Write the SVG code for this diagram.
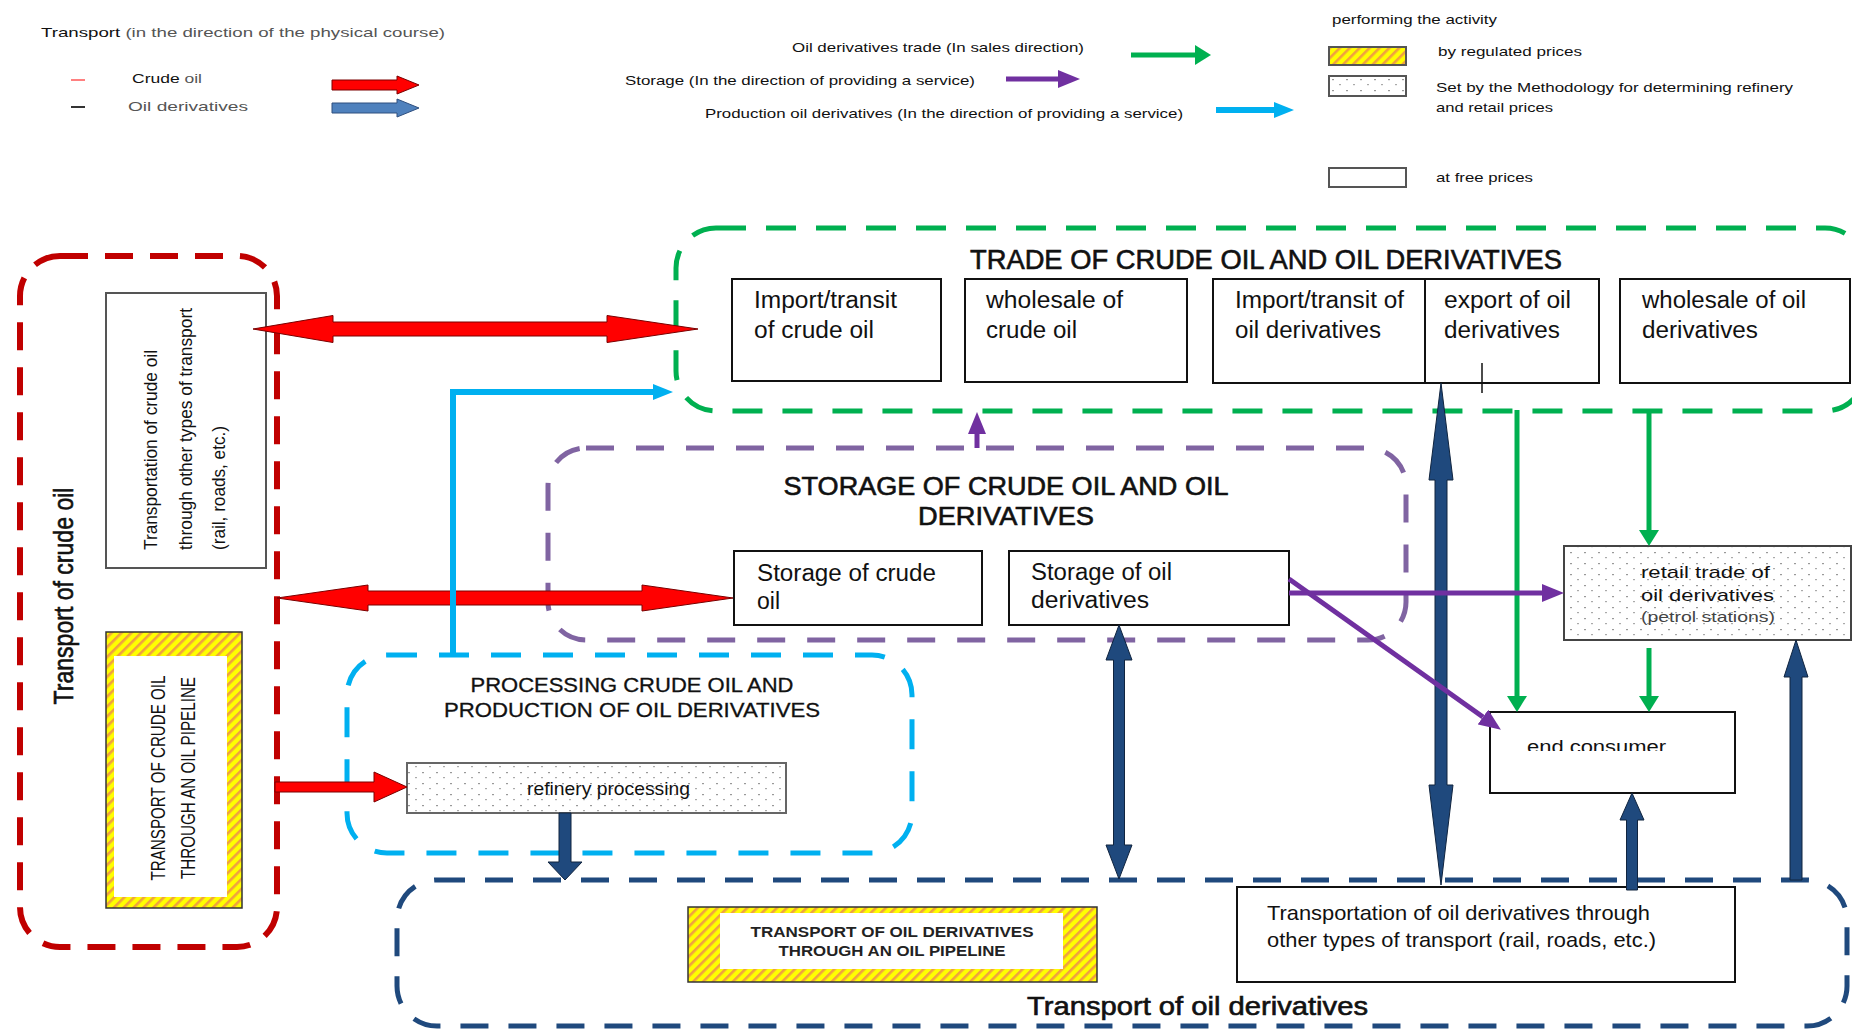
<svg xmlns="http://www.w3.org/2000/svg" width="1852" height="1029" viewBox="0 0 1852 1029">
<style>
text{font-family:"Liberation Sans",Arial,sans-serif}
.lg{font-size:13px;fill:#555}
.lgk{fill:#111}
.bx{font-size:23px;fill:#111}
.cond{fill:#111}
.ttl{stroke:#111;stroke-width:0.6}
.grp{fill:none;stroke-linejoin:round}
.node{fill:#fff;stroke:#111;stroke-width:2}
.gnode{stroke:#555;stroke-width:2}
.red{fill:#ff0000;stroke:#7a0000;stroke-width:1}
.navy{fill:#1f497d;stroke:#10243f;stroke-width:1}
.lg-g{stroke:#00b050;stroke-width:5;fill:none}
.lg-p{stroke:#7030a0;stroke-width:5;fill:none}
.lg-c{stroke:#00b0f0;stroke-width:6;fill:none}
</style>
<defs>
<pattern id="hatch" patternUnits="userSpaceOnUse" width="7" height="7" patternTransform="rotate(45)">
<rect width="7" height="7" fill="#ffff00"/>
<rect width="2.6" height="7" fill="#f0a040"/>
</pattern>
<pattern id="dots" patternUnits="userSpaceOnUse" width="14" height="11">
<rect width="14" height="11" fill="#fff"/>
<rect x="2" y="2" width="2" height="1.2" fill="#999"/>
<rect x="9" y="7" width="2" height="1.2" fill="#aaa"/>
</pattern>
<marker id="mg" markerUnits="userSpaceOnUse" viewBox="0 0 16 20" markerWidth="16" markerHeight="20" refX="0" refY="10" orient="auto"><path d="M0,0 L16,10 L0,20 z" fill="#00b050"/></marker>
<marker id="mp" markerUnits="userSpaceOnUse" viewBox="0 0 22 18" markerWidth="22" markerHeight="18" refX="0" refY="9" orient="auto"><path d="M0,0 L22,9 L0,18 z" fill="#7030a0"/></marker>
<marker id="mc" markerUnits="userSpaceOnUse" viewBox="0 0 20 16" markerWidth="20" markerHeight="16" refX="0" refY="8" orient="auto"><path d="M0,0 L20,8 L0,16 z" fill="#00b0f0"/></marker>
<clipPath id="ecclip"><rect x="1495" y="714" width="235" height="37"/></clipPath>
</defs>
<rect width="1852" height="1029" fill="#fff"/>

<g id="legend">
<text class="lg" x="41" y="37" textLength="404" lengthAdjust="spacingAndGlyphs"><tspan class="lgk">Transport</tspan> (in the direction of the physical course)</text>
<line x1="71" y1="80" x2="85" y2="80" stroke="#ff8080" stroke-width="2"/>
<text class="lg" x="132" y="83" textLength="70" lengthAdjust="spacingAndGlyphs"><tspan class="lgk">Crude</tspan> oil</text>
<line x1="71" y1="107" x2="85" y2="107" stroke="#333" stroke-width="2"/>
<text class="lg" x="128" y="111" textLength="120" lengthAdjust="spacingAndGlyphs">Oil derivatives</text>
<polygon class="red" points="332,80 397,80 397,76 419,85 397,94 397,90 332,90"/>
<polygon points="332,103 397,103 397,99 419,108 397,117 397,113 332,113" fill="#4f81bd" stroke="#2f4f7f" stroke-width="1"/>
<text class="lg lgk" x="792" y="52" textLength="292" lengthAdjust="spacingAndGlyphs">Oil derivatives trade (In sales direction)</text>
<path class="lg-g" d="M1131,55 H1195" marker-end="url(#mg)"/>
<text class="lg lgk" x="625" y="85" textLength="350" lengthAdjust="spacingAndGlyphs">Storage (In the direction of providing a service)</text>
<path class="lg-p" d="M1006,79 H1058" marker-end="url(#mp)"/>
<text class="lg lgk" x="705" y="118" textLength="478" lengthAdjust="spacingAndGlyphs">Production oil derivatives (In the direction of providing a service)</text>
<path class="lg-c" d="M1216,110 H1274" marker-end="url(#mc)"/>
<text class="lg lgk" x="1332" y="24" textLength="165" lengthAdjust="spacingAndGlyphs">performing the activity</text>
<rect x="1329" y="47" width="77" height="18" fill="url(#hatch)" stroke="#555" stroke-width="2"/>
<text class="lg lgk" x="1438" y="56" textLength="144" lengthAdjust="spacingAndGlyphs">by regulated prices</text>
<rect x="1329" y="76" width="77" height="20" fill="url(#dots)" stroke="#555" stroke-width="2"/>
<text class="lg lgk" x="1436" y="92" textLength="357" lengthAdjust="spacingAndGlyphs">Set by the Methodology for determining refinery</text>
<text class="lg lgk" x="1436" y="112" textLength="117" lengthAdjust="spacingAndGlyphs">and retail prices</text>
<rect x="1329" y="168" width="77" height="19" fill="#fff" stroke="#555" stroke-width="2"/>
<text class="lg lgk" x="1436" y="182" textLength="97" lengthAdjust="spacingAndGlyphs">at free prices</text>
</g>

<g id="group-transport-crude">
<rect class="grp" x="20" y="256" width="257" height="691" rx="40" stroke="#c00000" stroke-width="6" stroke-dasharray="28 17"/>
<text class="cond ttl" x="72.5" y="596" font-size="27" text-anchor="middle" textLength="217" lengthAdjust="spacingAndGlyphs" transform="rotate(-90 72.5 596)">Transport of crude oil</text>
</g>
<g id="group-trade">
<rect class="grp" x="676" y="228" width="1189" height="183" rx="40" stroke="#00b050" stroke-width="5" stroke-dasharray="30 20"/>
<text class="cond ttl" x="970" y="269" font-size="27" textLength="592" lengthAdjust="spacingAndGlyphs">TRADE OF CRUDE OIL AND OIL DERIVATIVES</text>
</g>
<g id="group-storage">
<rect class="grp" x="548" y="448" width="858" height="192" rx="38" stroke="#8064a2" stroke-width="5" stroke-dasharray="28 22"/>
<text class="cond ttl" x="1006" y="495" font-size="25" text-anchor="middle" textLength="445" lengthAdjust="spacingAndGlyphs">STORAGE OF CRUDE OIL AND OIL</text>
<text class="cond ttl" x="1006" y="525" font-size="25" text-anchor="middle" textLength="176" lengthAdjust="spacingAndGlyphs">DERIVATIVES</text>
</g>
<g id="group-processing">
<rect class="grp" x="347" y="655" width="565" height="198" rx="40" stroke="#00b0f0" stroke-width="5" stroke-dasharray="30 22"/>
<text class="cond" x="632" y="692" font-size="20" text-anchor="middle" textLength="323" lengthAdjust="spacingAndGlyphs" stroke="#111" stroke-width="0.3">PROCESSING CRUDE OIL AND</text>
<text class="cond" x="632" y="717" font-size="20" text-anchor="middle" textLength="376" lengthAdjust="spacingAndGlyphs" stroke="#111" stroke-width="0.3">PRODUCTION OF OIL DERIVATIVES</text>
</g>
<g id="group-transport-deriv">
<rect class="grp" x="397" y="880" width="1450" height="146" rx="40" stroke="#1f497d" stroke-width="5" stroke-dasharray="28 20"/>
<text class="cond ttl" x="1027" y="1015" font-size="25" textLength="341" lengthAdjust="spacingAndGlyphs">Transport of oil derivatives</text>
</g>

<g id="node-crude-other-transport">
<rect class="node gnode" x="106" y="293" width="160" height="275"/>
<text class="cond" x="157" y="550" font-size="19" textLength="200" lengthAdjust="spacingAndGlyphs" transform="rotate(-90 157 550)">Transportation of crude oil</text>
<text class="cond" x="192" y="550" font-size="19" textLength="242" lengthAdjust="spacingAndGlyphs" transform="rotate(-90 192 550)">through other types of transport</text>
<text class="cond" x="225" y="550" font-size="19" textLength="124" lengthAdjust="spacingAndGlyphs" transform="rotate(-90 225 550)">(rail, roads, etc.)</text>
</g>
<g id="node-crude-pipeline">
<rect x="106" y="632" width="136" height="276" fill="url(#hatch)" stroke="#333" stroke-width="1.5"/>
<rect x="114" y="656" width="113" height="241" fill="#fff"/>
<text class="cond" x="165" y="778" font-size="21" text-anchor="middle" textLength="205" lengthAdjust="spacingAndGlyphs" transform="rotate(-90 165 778)">TRANSPORT OF CRUDE OIL</text>
<text class="cond" x="195" y="778" font-size="21" text-anchor="middle" textLength="202" lengthAdjust="spacingAndGlyphs" transform="rotate(-90 195 778)">THROUGH AN OIL PIPELINE</text>
</g>
<g id="node-import-crude">
<rect class="node" x="732" y="279" width="209" height="102"/>
<text class="bx" x="754" y="308" textLength="143" lengthAdjust="spacingAndGlyphs">Import/transit</text>
<text class="bx" x="754" y="338" textLength="120" lengthAdjust="spacingAndGlyphs">of crude oil</text>
</g>
<g id="node-wholesale-crude">
<rect class="node" x="965" y="279" width="222" height="103"/>
<text class="bx" x="986" y="308" textLength="137" lengthAdjust="spacingAndGlyphs">wholesale of</text>
<text class="bx" x="986" y="338" textLength="91" lengthAdjust="spacingAndGlyphs">crude oil</text>
</g>
<g id="node-import-deriv">
<rect class="node" x="1213" y="279" width="212" height="104"/>
<text class="bx" x="1235" y="308" textLength="169" lengthAdjust="spacingAndGlyphs">Import/transit of</text>
<text class="bx" x="1235" y="338" textLength="146" lengthAdjust="spacingAndGlyphs">oil derivatives</text>
</g>
<g id="node-export-deriv">
<rect class="node" x="1425" y="279" width="174" height="104"/>
<text class="bx" x="1444" y="308" textLength="127" lengthAdjust="spacingAndGlyphs">export of oil</text>
<text class="bx" x="1444" y="338" textLength="116" lengthAdjust="spacingAndGlyphs">derivatives</text>
<line x1="1482" y1="363" x2="1482" y2="393" stroke="#111" stroke-width="1.5"/>
</g>
<g id="node-wholesale-deriv">
<rect class="node" x="1620" y="279" width="230" height="104"/>
<text class="bx" x="1642" y="308" textLength="164" lengthAdjust="spacingAndGlyphs">wholesale of oil</text>
<text class="bx" x="1642" y="338" textLength="116" lengthAdjust="spacingAndGlyphs">derivatives</text>
</g>
<g id="node-storage-crude">
<rect class="node" x="734" y="551" width="248" height="74"/>
<text class="bx" x="757" y="581" textLength="179" lengthAdjust="spacingAndGlyphs">Storage of crude</text>
<text class="bx" x="757" y="609">oil</text>
</g>
<g id="node-storage-deriv">
<rect class="node" x="1009" y="551" width="280" height="74"/>
<text class="bx" x="1031" y="580" textLength="141" lengthAdjust="spacingAndGlyphs">Storage of oil</text>
<text class="bx" x="1031" y="608" textLength="118" lengthAdjust="spacingAndGlyphs">derivatives</text>
</g>
<g id="node-refinery">
<rect x="407" y="763" width="379" height="50" fill="url(#dots)" stroke="#666" stroke-width="2"/>
<text class="cond" x="527" y="795" font-size="19" textLength="163" lengthAdjust="spacingAndGlyphs">refinery processing</text>
</g>
<g id="node-deriv-pipeline">
<rect x="688" y="907" width="409" height="75" fill="url(#hatch)" stroke="#333" stroke-width="1.5"/>
<rect x="720" y="913" width="343" height="56" fill="#fff"/>
<text x="892" y="937" font-size="14" font-weight="bold" fill="#222" text-anchor="middle" textLength="283" lengthAdjust="spacingAndGlyphs">TRANSPORT OF OIL DERIVATIVES</text>
<text x="892" y="956" font-size="14" font-weight="bold" fill="#222" text-anchor="middle" textLength="227" lengthAdjust="spacingAndGlyphs">THROUGH AN OIL PIPELINE</text>
</g>
<g id="node-deriv-other-transport">
<rect class="node" x="1237" y="887" width="498" height="95" stroke="#333"/>
<text class="cond" x="1267" y="920" font-size="21" textLength="383" lengthAdjust="spacingAndGlyphs">Transportation of oil derivatives through</text>
<text class="cond" x="1267" y="947" font-size="21" textLength="389" lengthAdjust="spacingAndGlyphs">other types of transport (rail, roads, etc.)</text>
</g>
<g id="node-end-consumer">
<rect class="node" x="1490" y="712" width="245" height="81" stroke="#333"/>
<text class="cond" x="1527" y="753" font-size="18" textLength="139" lengthAdjust="spacingAndGlyphs" clip-path="url(#ecclip)">end consumer</text>
</g>
<g id="node-retail">
<rect x="1564" y="546" width="287" height="94" fill="url(#dots)" stroke="#444" stroke-width="2"/>
<text x="1641" y="578" font-size="17" fill="#111" textLength="129" lengthAdjust="spacingAndGlyphs">retail trade of</text>
<text x="1641" y="601" font-size="17" fill="#111" textLength="133" lengthAdjust="spacingAndGlyphs">oil derivatives</text>
<text x="1641" y="622" font-size="15" fill="#444" textLength="134" lengthAdjust="spacingAndGlyphs">(petrol stations)</text>
</g>

<g id="connectors">
<polygon class="red" points="253,329 333,315.5 333,322 607,322 607,315.5 698,329 607,342.5 607,336 333,336 333,342.5"/>
<polygon class="red" points="277,598 368,585 368,591 642,591 642,585 733,598 642,611 642,605 368,605 368,611"/>
<polygon class="red" points="275,782 374,782 374,772 407,787 374,802 374,792 275,792"/>
<path class="lg-c" d="M453,653 V392 H653" marker-end="url(#mc)"/>
<polygon class="navy" points="559,813 571,813 571,862 582,862 565,880 548,862 559,862"/>
<polygon class="navy" points="1119,625 1132,660 1124.5,660 1124.5,845 1132,845 1119,879 1106,845 1113.5,845 1113.5,660 1106,660"/>
<polygon class="navy" points="1441,383 1453,480 1447,480 1447,785 1453,785 1441,885 1429,785 1435,785 1435,480 1429,480"/>
<polygon class="navy" points="1632,793 1644,820 1637.5,820 1637.5,890 1626.5,890 1626.5,820 1620,820"/>
<polygon class="navy" points="1796,640 1808,677 1802,677 1802,880 1790,880 1790,677 1784,677"/>
<path class="lg-g" d="M1517,410 V696" marker-end="url(#mg)"/>
<path class="lg-g" d="M1649,410 V530" marker-end="url(#mg)"/>
<path class="lg-g" d="M1649,648 V696" marker-end="url(#mg)"/>
<path class="lg-p" d="M977,448 V434" marker-end="url(#mp)"/>
<path class="lg-p" d="M1289,593 H1542" marker-end="url(#mp)"/>
<path class="lg-p" d="M1289,579 L1483,717" marker-end="url(#mp)"/>
</g>
</svg>
